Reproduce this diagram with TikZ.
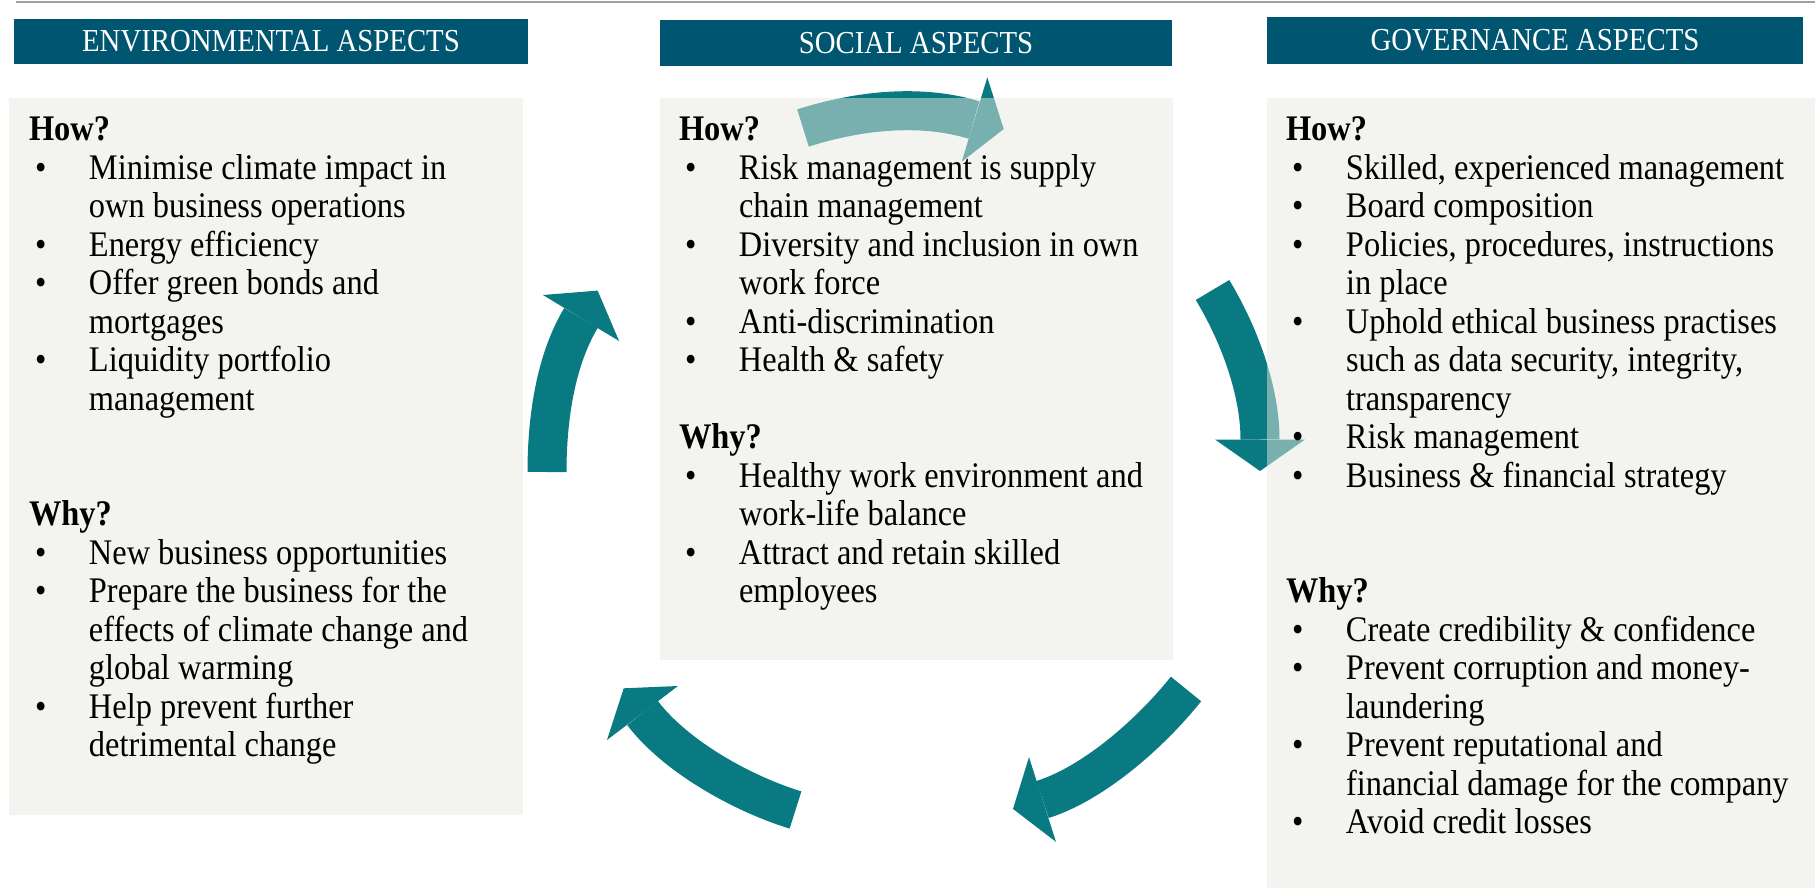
\documentclass[tikz,border=0pt]{standalone}
\usepackage{fontspec}
\setmainfont{Liberation Serif}[FakeStretch=0.9]
\usetikzlibrary{positioning, backgrounds}
\usepackage{xcolor}

\definecolor{headblue}{RGB}{0,86,112}
\definecolor{cyclecol}{RGB}{10,122,130}
\definecolor{panelgrey}{RGB}{231,231,223}
\definecolor{rulegrey}{RGB}{160,160,160}
\newcommand{\bodyfont}{\fontsize{36}{38.5}\selectfont}
\newcommand{\headfont}{\fontsize{32}{36}\selectfont}

\tikzset{
    headbar/.style={fill=headblue, text=white, font=\headfont, inner sep=0pt},
    panel/.style={fill=panelgrey, fill opacity=0.5, inner sep=0pt},
    listtext/.style={anchor=north west, inner sep=0pt, font=\bodyfont, text=black},
    cyclebody/.style={draw=cyclecol, line width=39pt},
    cyclehead/.style={fill=cyclecol},
}

\begin{document}
\begin{tikzpicture}[x=1pt, y=-1pt]
            \useasboundingbox (0,0) rectangle (1815,888);
            \draw[rulegrey, line width=2pt] (16,2) -- (1815,2);

            % headers
            \node[headbar, minimum width=514pt, minimum height=45pt] (envhead) at (271,41.5) {ENVIRONMENTAL ASPECTS};
            \node[headbar, minimum width=512pt, minimum height=46pt] (sochead) at (916,43) {SOCIAL ASPECTS};
            \node[headbar, minimum width=536pt, minimum height=47pt] (govhead) at (1535,40.5) {GOVERNANCE ASPECTS};

            % panels
            \node[panel, minimum width=514pt, minimum height=717pt] (envbox) at (266,456.5) {};
            \node[panel, minimum width=513pt, minimum height=562pt] (socbox) at (916.5,379) {};
            \node[panel, minimum width=548pt, minimum height=790pt] (govbox) at (1541,493) {};

            \node[listtext] (envlist) at ([xshift=20pt, yshift=-15.7pt]envbox.north west) {%
                \begin{tabular}{@{\hspace{6pt}}p{54pt}@{}l@{}}
                    \multicolumn{2}{@{}l@{}}{\textbf{How?}}\\
                    \textbullet & Minimise climate impact in\\
                    & own business operations\\
                    \textbullet & Energy efficiency\\
                    \textbullet & Offer green bonds and\\
                    & mortgages\\
                    \textbullet & Liquidity portfolio\\
                    & management\\
                    \\
                    \\
                    \multicolumn{2}{@{}l@{}}{\textbf{Why?}}\\
                    \textbullet & New business opportunities\\
                    \textbullet & Prepare the business for the\\
                    & effects of climate change and\\
                    & global warming\\
                    \textbullet & Help prevent further\\
                    & detrimental change
                \end{tabular}};
            \node[listtext] (soclist) at ([xshift=19pt, yshift=-15.7pt]socbox.north west) {%
                \begin{tabular}{@{\hspace{6pt}}p{54pt}@{}l@{}}
                    \multicolumn{2}{@{}l@{}}{\textbf{How?}}\\
                    \textbullet & Risk management is supply\\
                    & chain management\\
                    \textbullet & Diversity and inclusion in own\\
                    & work force\\
                    \textbullet & Anti-discrimination\\
                    \textbullet & Health \& safety\\
                    \\
                    \multicolumn{2}{@{}l@{}}{\textbf{Why?}}\\
                    \textbullet & Healthy work environment and\\
                    & work-life balance\\
                    \textbullet & Attract and retain skilled\\
                    & employees
                \end{tabular}};
            \node[listtext] (govlist) at ([xshift=19pt, yshift=-15.7pt]govbox.north west) {%
                \begin{tabular}{@{\hspace{6pt}}p{54pt}@{}l@{}}
                    \multicolumn{2}{@{}l@{}}{\textbf{How?}}\\
                    \textbullet & Skilled, experienced management\\
                    \textbullet & Board composition\\
                    \textbullet & Policies, procedures, instructions\\
                    & in place\\
                    \textbullet & Uphold ethical business practises\\
                    & such as data security, integrity,\\
                    & transparency\\
                    \textbullet & Risk management\\
                    \textbullet & Business \& financial strategy\\
                    \\
                    \\
                    \multicolumn{2}{@{}l@{}}{\textbf{Why?}}\\
                    \textbullet & Create credibility \& confidence\\
                    \textbullet & Prevent corruption and money-\\
                    & laundering\\
                    \textbullet & Prevent reputational and\\
                    & financial damage for the company\\
                    \textbullet & Avoid credit losses
                \end{tabular}};

            % cycle arrows, behind the panels
            \coordinate (envout) at (547,472);
            \coordinate (envin) at (581,318);
            \coordinate (envtip) at (597.6,290.6);
            \coordinate (socout) at (1212.5,290);
            \coordinate (socin) at (1260,439.5);
            \coordinate (soctip) at (1260,471);
            \coordinate (govout) at (1186,689);
            \coordinate (govin) at (1042.5,799.5);
            \coordinate (govtip) at (1013,808.9);
            \coordinate (lowout) at (795.5,810);
            \coordinate (lowin) at (642.5,713);
            \coordinate (lowtip) at (623.7,688.3);
            \coordinate (topout) at (803,128);
            \coordinate (topin) at (974,120);
            \coordinate (toptip) at (1003.7,129);
            \begin{scope}[on background layer]
                \draw[cyclebody] (envout) .. controls (547,420) and (555.1,360.8) .. (envin);
                \fill[cyclehead] (542.9,295) -- (envtip) -- (619.1,341) -- cycle;
                \draw[cyclebody] (socout) .. controls (1238.4,332.8) and (1260,389.5) .. (socin);
                \fill[cyclehead] (1215,439.5) -- (soctip) -- (1305,439.5) -- cycle;
                \draw[cyclebody] (govout) .. controls (1151.6,732) and (1094.9,782.9) .. (govin);
                \fill[cyclehead] (1029,757.1) -- (govtip) -- (1056,841.9) -- cycle;
                \draw[cyclebody] (lowout) .. controls (742.9,793.9) and (675.8,756.8) .. (lowin);
                \fill[cyclehead] (607,740) -- (lowtip) -- (678,686) -- cycle;
                \draw[cyclebody] (topout) .. controls (857.3,110.7) and (919.5,103.5) .. (topin);
                \fill[cyclehead] (987.3,77.3) -- (toptip) -- (961.7,161.7) -- cycle;
            \end{scope}
        \end{tikzpicture}
\end{document}
